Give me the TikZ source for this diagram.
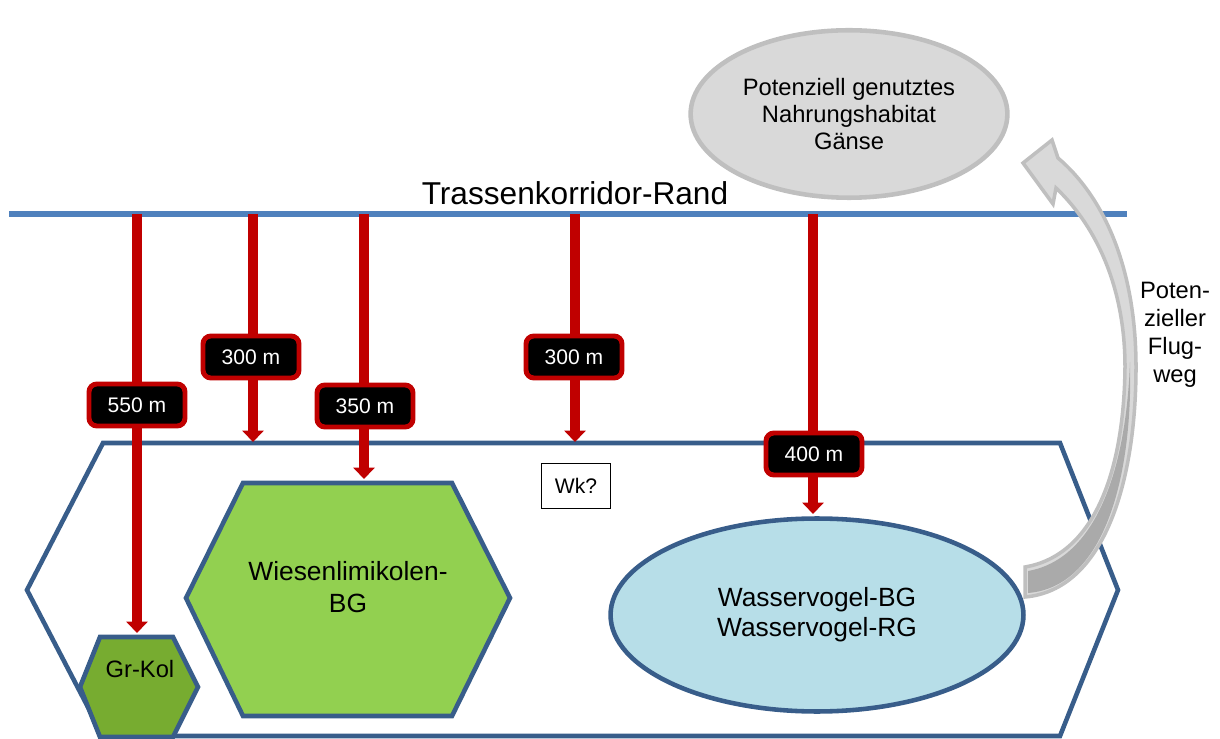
\documentclass[tikz,border=0pt]{standalone}
\usepackage{fontspec}
\setmainfont{Liberation Sans}
\usetikzlibrary{arrows.meta,shapes.geometric}
\definecolor{randblau}{RGB}{79,129,189}
\definecolor{umriss}{RGB}{56,93,138}
\definecolor{rot}{RGB}{192,0,0}
\definecolor{hellgruen}{RGB}{146,208,80}
\definecolor{dunkelgruen}{RGB}{119,172,48}
\definecolor{wasser}{RGB}{183,222,232}
\definecolor{grau}{RGB}{217,217,217}
\definecolor{graurand}{RGB}{191,191,191}
\definecolor{graudunkel}{RGB}{170,170,170}

\begin{document}
\begin{tikzpicture}[x=0.02cm,y=-0.02cm,
	abstand/.style={line width=5.6pt, draw=rot, -{Triangle[length=6.5pt,width=12pt]}},
	marke/.style={fill=black, draw=rot, line width=2.8pt, rounded corners=4.5pt, text=white, minimum width=1.92cm, minimum height=0.84cm, inner sep=0pt, font=\fontsize{12}{14}\selectfont},
	flaeche/.style={draw=umriss, line width=2.6pt}]
			\useasboundingbox (0,0) rectangle (1220,739);
			
			% Trassenkorridor-Rand
			\draw[randblau, line width=3.2pt] (9,214) -- (1127,214);
			\node[font=\fontsize{18}{20}\selectfont] (titel) at (575,193) {Trassenkorridor-Rand};
			
			% Gebiet
			\draw[flaeche] (103,443) -- (1060,443) -- (1118,590) -- (1060,736) -- (103,736) -- (27,590) -- cycle;
			
			\node[shape=ellipse, fill=grau, draw=graurand, line width=2.6pt, minimum width=6.1cm, minimum height=3.35cm, align=center, font=\fontsize{13.5}{15.3}\selectfont] (ng) at (849,114) {Potenziell genutztes\\Nahrungshabitat\\Gänse};
			
			\draw[flaeche, fill=hellgruen] (243,483) -- (452,483) -- (510,598) -- (452,716) -- (243,716) -- (186,598) -- cycle;
			\node[align=center, font=\fontsize{15}{18.5}\selectfont] (wl) at (348,587) {Wiesenlimikolen-\\BG};
			
			\draw[flaeche, fill=dunkelgruen] (100,637) -- (173,637) -- (198,687) -- (173,737) -- (100,737) -- (80,687) -- cycle;
			\node[font=\fontsize{13.5}{16}\selectfont] (gk) at (140,669) {Gr-Kol};
			
			\node[shape=ellipse, flaeche, fill=wasser, minimum width=8.26cm, minimum height=3.86cm, align=center, font=\fontsize{15}{17}\selectfont] (wv) at (817,615) {Wasservogel-BG\\Wasservogel-RG};
			
			\node[draw=black, line width=0.6pt, minimum width=1.38cm, minimum height=0.9cm, font=\fontsize{12}{14}\selectfont] (wk) at (576,486) {Wk?};
			
			% Abstaende
			\coordinate (s1) at (137,214);
			\coordinate (s2) at (253,214);
			\coordinate (s3) at (364,214);
			\coordinate (s4) at (575,214);
			\coordinate (s5) at (813,214);
			\coordinate (z1) at (137,633);
			\coordinate (z2) at (253,442);
			\coordinate (z3) at (364,479);
			\coordinate (z4) at (575,442);
			\coordinate (z5) at (813,514);
			\draw[abstand] (s1) -- (z1);
			\draw[abstand] (s2) -- (z2);
			\draw[abstand] (s3) -- (z3);
			\draw[abstand] (s4) -- (z4);
			\draw[abstand] (s5) -- (z5);
			
			\node[marke] (m1) at (137,405) {550 m};
			\node[marke] (m2) at (251,357) {300 m};
			\node[marke] (m3) at (365,406) {350 m};
			\node[marke] (m4) at (574,357) {300 m};
			\node[marke] (m5) at (814,454) {400 m};
			
			% Flugweg
			\filldraw[fill=grau, draw=graurand, line width=2pt] (1025,567) .. controls (1095,555) and (1124,470) .. (1125,367) .. controls (1125,290) and (1098,228) .. (1056,188) -- (1053,204) -- (1023,163) -- (1052,140) -- (1058,158) .. controls (1105,198) and (1136,270) .. (1136,367) .. controls (1136,480) and (1105,590) .. (1025,597) -- cycle;
			\fill[graudunkel] (1028,571) .. controls (1096,559) and (1126,470) .. (1130,362) .. controls (1133,480) and (1103,587) .. (1028,593) -- cycle;
			\node[align=center, font=\fontsize{13.5}{16}\selectfont] (fw) at (1175,335) {Poten-\\zieller\\Flug-\\weg};
		\end{tikzpicture}
\end{document}
